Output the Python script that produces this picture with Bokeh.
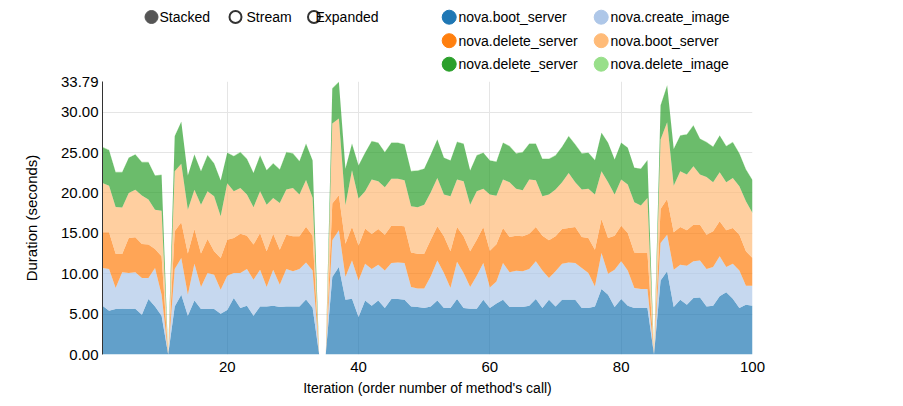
from bokeh.plotting import figure
from bokeh.layouts import column
from bokeh.models import Range1d, FixedTicker, NumeralTickFormatter, ColumnDataSource
from bokeh.core.properties import value
from bokeh.embed import file_html
from bokeh.resources import INLINE

# ---------------- data ----------------
iterations = list(range(1, 101))

boot_server = [
    6.03, 5.41, 5.62, 5.66, 5.62, 5.66, 4.92, 6.86, 5.95, 4.79,
    0.00, 5.95, 7.40, 4.79, 6.69, 5.62, 5.62, 5.62, 5.04, 5.50,
    6.98, 5.74, 6.03, 4.79, 5.95, 5.95, 6.03, 5.87, 5.95, 5.95,
    5.95, 6.80, 5.80, 0.00, 0.00, 9.59, 10.83, 6.78, 6.90, 4.63,
    6.69, 6.03, 6.69, 5.74, 6.86, 6.86, 6.78, 5.95, 5.87, 5.74,
    5.95, 6.69, 5.74, 5.74, 6.86, 5.74, 5.66, 5.66, 6.78, 5.74,
    6.30, 6.78, 5.87, 5.87, 5.87, 6.03, 6.86, 5.74, 6.78, 5.95,
    6.78, 6.78, 6.78, 5.74, 5.74, 5.95, 8.10, 7.40, 5.87, 6.86,
    6.03, 5.74, 5.74, 5.74, 0.00, 9.17, 10.29, 5.87, 6.78, 6.16,
    6.98, 7.07, 5.95, 6.03, 7.20, 7.70, 6.90, 5.74, 6.16, 6.03,
]
create_image = [
    4.67, 5.17, 2.60, 4.51, 4.46, 4.51, 4.54, 2.60, 4.75, 2.61,
    0.00, 4.63, 4.54, 2.61, 4.55, 2.73, 4.46, 4.26, 2.96, 4.25,
    3.10, 4.34, 4.55, 4.47, 4.55, 2.40, 4.47, 2.77, 4.63, 4.34,
    4.63, 4.60, 4.60, 0.00, 0.00, 4.54, 4.54, 2.81, 4.75, 4.54,
    4.55, 4.55, 4.43, 4.67, 4.46, 4.54, 4.54, 2.40, 2.31, 2.44,
    3.72, 4.96, 4.34, 2.48, 4.63, 4.34, 2.69, 4.09, 4.54, 2.56,
    2.75, 4.54, 4.30, 4.50, 4.42, 4.55, 4.67, 4.67, 2.68, 4.34,
    4.46, 4.62, 4.54, 4.96, 4.34, 2.48, 4.46, 2.60, 4.63, 4.67,
    4.38, 2.48, 2.36, 2.36, 0.00, 4.63, 4.54, 4.63, 4.34, 4.84,
    4.55, 4.58, 4.63, 4.80, 4.95, 3.13, 4.34, 4.67, 2.35, 2.48,
]
delete_server = [
    4.42, 4.54, 4.26, 2.27, 4.34, 4.33, 4.22, 4.14, 2.36, 4.75,
    0.00, 4.67, 4.42, 5.10, 4.30, 4.15, 4.22, 2.89, 3.94, 4.45,
    4.34, 4.88, 4.13, 4.34, 4.54, 4.42, 4.46, 4.34, 4.25, 4.34,
    4.05, 4.40, 4.30, 0.00, 0.00, 4.55, 4.33, 4.11, 4.15, 4.33,
    4.36, 4.32, 4.42, 4.42, 4.63, 4.55, 4.55, 4.29, 4.30, 4.30,
    4.53, 4.22, 4.55, 4.55, 4.30, 4.55, 4.42, 4.45, 4.47, 4.55,
    4.61, 4.34, 4.38, 4.34, 4.34, 4.38, 4.26, 4.30, 4.67, 4.34,
    4.30, 4.26, 4.47, 3.85, 4.34, 4.55, 4.22, 4.42, 4.21, 4.42,
    4.63, 4.42, 4.46, 4.46, 0.00, 4.20, 4.43, 4.62, 4.67, 4.37,
    4.54, 4.42, 4.25, 4.42, 4.34, 4.54, 4.42, 4.42, 4.26, 3.43,
]
boot_server_2 = [
    6.12, 5.78, 5.78, 5.76, 5.58, 5.90, 5.99, 5.57, 4.87, 5.65,
    0.00, 7.44, 7.24, 5.43, 4.86, 6.05, 5.90, 6.83, 5.16, 7.00,
    5.78, 5.66, 5.08, 4.62, 5.16, 5.78, 4.42, 5.78, 5.58, 5.99,
    5.16, 5.80, 4.70, 0.00, 0.00, 9.92, 9.50, 4.77, 7.00, 5.80,
    4.60, 6.75, 5.91, 5.87, 5.79, 5.79, 5.70, 5.71, 5.74, 6.07,
    5.88, 5.99, 5.16, 6.82, 5.86, 6.82, 5.78, 6.00, 4.71, 6.94,
    5.99, 5.99, 6.77, 5.79, 5.70, 6.69, 5.78, 4.88, 5.66, 5.78,
    5.78, 6.82, 5.53, 5.86, 6.08, 6.81, 5.91, 6.90, 5.08, 5.70,
    5.99, 6.20, 5.87, 6.82, 0.00, 8.60, 9.50, 5.78, 6.90, 6.90,
    7.23, 6.20, 7.15, 6.07, 6.07, 5.95, 6.20, 6.00, 6.20, 5.58,
]
delete_server_2 = [
    4.42, 4.39, 4.30, 4.36, 4.34, 4.35, 4.13, 4.63, 4.22, 4.43,
    0.00, 4.33, 5.20, 4.22, 4.35, 4.14, 4.47, 4.04, 4.43, 3.76,
    4.35, 4.42, 4.41, 4.26, 4.43, 4.25, 4.26, 4.14, 4.63, 4.26,
    4.14, 4.50, 4.60, 0.00, 0.00, 4.33, 4.54, 4.53, 3.30, 4.10,
    4.76, 4.75, 4.75, 4.34, 4.46, 4.46, 4.43, 4.34, 4.53, 4.43,
    4.67, 4.74, 4.55, 4.41, 4.65, 4.62, 4.22, 4.43, 4.46, 4.21,
    4.22, 4.55, 4.47, 4.38, 4.71, 4.42, 4.50, 4.61, 4.41, 4.22,
    4.38, 4.54, 4.68, 4.47, 4.46, 4.26, 4.75, 4.88, 4.34, 4.55,
    4.55, 4.26, 4.55, 4.67, 0.00, 4.23, 4.54, 4.55, 4.41, 4.96,
    5.05, 4.43, 4.30, 4.38, 4.54, 4.47, 4.42, 4.05, 3.93, 4.05,
]
delete_image = [0.00 if b == 0 else 0.05 for b in boot_server]

series_names = ["nova.boot_server", "nova.create_image", "nova.delete_server",
                "nova.boot_server", "nova.delete_server", "nova.delete_image"]
series_values = [boot_server, create_image, delete_server,
                 boot_server_2, delete_server_2, delete_image]
series_colors = ["#1f77b4", "#aec7e8", "#ff7f0e", "#ffbb78", "#2ca02c", "#98df8a"]
y_ticks = [0, 5, 10, 15, 20, 25, 30, 33.79]
x_ticks = [20, 40, 60, 80, 100]
mode_labels = ["Stacked", "Stream", "Expanded"]

FONT = "Liberation Sans"
W = 895
TOP_H = 73
FL, FR, FT, FB = 102, 143, 8, 46

# ---------------- legend strip (top) ----------------
# frames of stacked figures are aligned, so the legend frame spans the same
# horizontal extent as the chart; its range is expressed in page pixels.
leg = figure(width=W, height=TOP_H, x_range=Range1d(FL, W - FR), y_range=Range1d(TOP_H, 0),
             output_backend="svg", toolbar_location=None,
             x_axis_location=None, y_axis_location=None,
             min_border=0, min_border_left=FL, min_border_right=FR,
             min_border_top=0, min_border_bottom=0)
leg.outline_line_color = None
leg.xgrid.visible = False
leg.ygrid.visible = False

# Stacked / Stream / Expanded controls
mode_cx = [151, 235, 313.5]
mode_tx = [159, 246, 315]
mode_y = [16.5, 16.5, 16.5]
leg.scatter(x=mode_cx[:1], y=mode_y[:1], size=13, marker="circle",
            fill_color="#555555", line_color="#555555", line_width=1)
leg.scatter(x=mode_cx[1:], y=mode_y[1:], size=12, marker="circle",
            fill_color="#ffffff", line_color="#333333", line_width=2)
leg.text(x=mode_tx, y=mode_y, text=mode_labels, text_font=value(FONT),
         text_font_size="14px", text_color="#000000",
         text_align="left", text_baseline="middle")

# series legend: 2 columns x 3 rows
col_cx = [448.7, 600.7]
col_tx = [458, 610]
row_cy = [16.7, 40.2, 63.7]
lx, ly, tx = [], [], []
for k in range(len(series_names)):
    r, c = divmod(k, 2)
    lx.append(col_cx[c]); ly.append(row_cy[r]); tx.append(col_tx[c])
leg.scatter(x=lx, y=ly, size=14, marker="circle", fill_color=series_colors,
            line_color=series_colors, line_width=1)
leg.text(x=tx, y=ly, text=series_names, text_font=value(FONT),
         text_font_size="14px", text_color="#000000",
         text_align="left", text_baseline="middle")

# ---------------- main chart ----------------
H = 327
X0, X1 = 1, 100
Y0, Y1 = 0, 33.79

p = figure(width=W, height=H, x_range=Range1d(X0, X1), y_range=Range1d(Y0, Y1),
           output_backend="svg", toolbar_location=None,
           min_border_left=FL, min_border_right=FR,
           min_border_top=FT, min_border_bottom=FB)
p.outline_line_color = None

data = {"x": iterations}
keys = []
for k, vals in enumerate(series_values):
    data[f"s{k}"] = vals
    keys.append(f"s{k}")
src = ColumnDataSource(data)
p.varea_stack(stackers=keys, x="x", color=series_colors, fill_alpha=0.7, source=src)

p.xaxis.ticker = FixedTicker(ticks=x_ticks)
p.yaxis.ticker = FixedTicker(ticks=y_ticks)
p.yaxis.formatter = NumeralTickFormatter(format="0.00")
p.xgrid.ticker = FixedTicker(ticks=x_ticks)
p.ygrid.ticker = FixedTicker(ticks=[t for t in y_ticks if 0 < t < 33])
for g in (p.xgrid, p.ygrid):
    g.grid_line_color = "#e5e5e5"
    g.grid_line_width = 1

for ax in (p.xaxis, p.yaxis):
    ax.major_tick_line_color = None
    ax.minor_tick_line_color = None
    ax.major_tick_out = 0
    ax.major_tick_in = 0
    ax.major_label_text_font = FONT
    ax.major_label_text_font_size = "15px"
    ax.major_label_text_color = "#000000"
    ax.axis_label_text_font = FONT
    ax.axis_label_text_font_style = "normal"
    ax.axis_label_text_color = "#000000"

p.xaxis.axis_line_color = None
p.xaxis.major_label_standoff = 7
p.xaxis.axis_label = "Iteration (order number of method's call)"
p.xaxis.axis_label_text_font_size = "14px"
p.xaxis.axis_label_standoff = 5

p.yaxis.axis_line_color = "#333333"
p.yaxis.axis_line_width = 1
p.yaxis.major_label_standoff = 4
p.yaxis.axis_label = "Duration (seconds)"
p.yaxis.axis_label_text_font_size = "15px"
p.yaxis.axis_label_standoff = 18

layout = column(leg, p, spacing=0)
open("out.html", "w").write(file_html(layout, INLINE))
